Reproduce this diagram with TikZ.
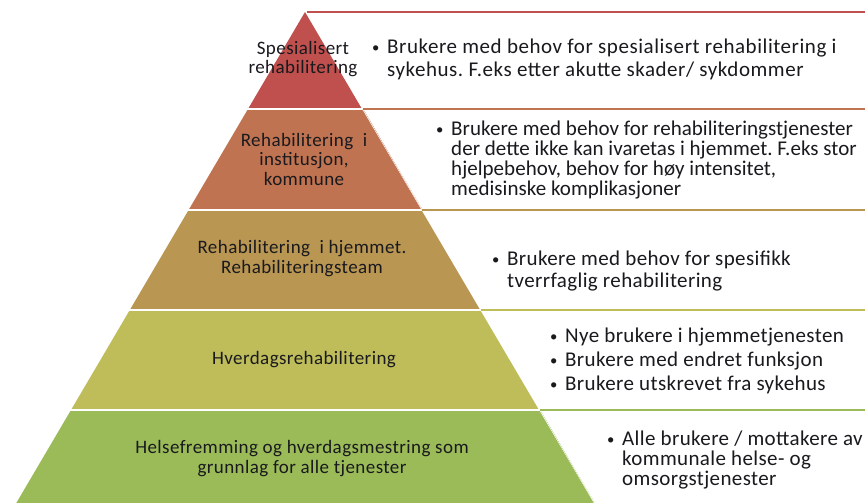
\documentclass[tikz,border=0pt]{standalone}
\usepackage{fontspec}
\setmainfont{Carlito}
\newfontfamily\rfont[LetterSpace=1.8]{Carlito}
\newfontfamily\rfonta[LetterSpace=2.6]{Carlito}
\newfontfamily\rfontb[LetterSpace=0.2]{Carlito}
\newfontfamily\pfont[LetterSpace=2.2]{Carlito}
\definecolor{cA}{RGB}{192,80,77}
\definecolor{cB}{RGB}{192,115,80}
\definecolor{cC}{RGB}{185,150,82}
\definecolor{cD}{RGB}{190,189,90}
\definecolor{cE}{RGB}{155,187,89}
\definecolor{txt}{RGB}{25,25,30}
\newcommand{\bl}{\makebox[15pt][l]{\raisebox{1pt}{\scalebox{0.7}{\textbullet}}}}
\newcommand{\ind}{\hspace*{15pt}}
\frenchspacing
\begin{document}
\begin{tikzpicture}[x=1pt,y=-1pt,
  layerfill/.style={fill=#1,draw=none},
  sepline/.style={white,line width=1.6pt},
  boxtop/.style={draw=#1,line width=1.4pt},
  boxside/.style={draw=#1!55,line width=0.8pt,dash pattern=on 1pt off 1pt},
  plabel/.style={align=center,inner sep=0pt,text=txt,font=\pfont\fontsize{19}{19.5}\selectfont},
  rtext/.style={align=left,anchor=west,inner sep=0pt,text=txt}]
\useasboundingbox (0,0) rectangle (865,503);
\clip (0,0) rectangle (865,503);
\fill[white] (0,0) rectangle (865,503);
% pyramid corners
\coordinate (apex) at (305,12);
\coordinate (l1) at (248,109);   \coordinate (r1) at (362,109);
\coordinate (l2) at (188.6,210); \coordinate (r2) at (421.4,210);
\coordinate (l3) at (129.8,310); \coordinate (r3) at (480.2,310);
\coordinate (l4) at (71,410);    \coordinate (r4) at (539,410);
\coordinate (l5) at (16.3,503);  \coordinate (r5) at (593.7,503);
\coordinate (e0) at (865,12);
\coordinate (e1) at (865,109);
\coordinate (e2) at (865,210);
\coordinate (e3) at (865,310);
\coordinate (e4) at (865,410);
% layers
\fill[layerfill=cA] (apex) -- (r1) -- (l1) -- cycle;
\fill[layerfill=cB] (l1) -- (r1) -- (r2) -- (l2) -- cycle;
\fill[layerfill=cC] (l2) -- (r2) -- (r3) -- (l3) -- cycle;
\fill[layerfill=cD] (l3) -- (r3) -- (r4) -- (l4) -- cycle;
\fill[layerfill=cE] (l4) -- (r4) -- (r5) -- (l5) -- cycle;
% separators
\draw[sepline] ([xshift=-3pt]l1) -- ([xshift=2pt]r1);
\draw[sepline] ([xshift=-3pt]l2) -- ([xshift=2pt]r2);
\draw[sepline] ([xshift=-3pt]l3) -- ([xshift=2pt]r3);
\draw[sepline] ([xshift=-3pt]l4) -- ([xshift=2pt]r4);
% box sides along pyramid edge
\draw[boxside=cB] ([xshift=1pt]r1) -- ([xshift=1pt]r2);
\draw[boxside=cE] ([xshift=1pt]r4) -- ([xshift=1pt]r5);
% box tops
\draw[boxtop=cA] ([xshift=2pt]apex) -- (e0);
\draw[boxtop=cB] ([xshift=1pt]r1) -- (e1);
\draw[boxtop=cC] ([xshift=1pt]r2) -- (e2);
\draw[boxtop=cD] ([xshift=1pt]r3) -- (e3);
\draw[boxtop=cE] ([xshift=1pt]r4) -- (e4);
% pyramid labels
\node[plabel] (p1) at (303,59) {Spesialisert\\rehabilitering};
\node[plabel] (p2) at (304,159) {Rehabilitering\ \ i\\institusjon,\\kommune};
\node[plabel] (p3) at (302,258.5) {Rehabilitering\ \ i hjemmet.\\Rehabiliteringsteam};
\node[plabel] (p4) at (304,360) {Hverdagsrehabilitering};
\node[plabel] (p5) at (302,458.5) {Helsefremming og hverdagsmestring som\\grunnlag for alle tjenester};
% right texts
\node[rtext,font=\rfonta\fontsize{21}{23}\selectfont] (t1) at (372,59.5) {\bl Brukere med behov for spesialisert rehabilitering i\\\ind sykehus. F.eks etter akutte skader/ sykdommer};
\node[rtext,font=\rfontb\fontsize{21}{20}\selectfont] (t2) at (436,160) {\bl Brukere med behov for rehabiliteringstjenester\\\ind der dette ikke kan ivaretas i hjemmet. F.eks stor\\\ind hjelpebehov, behov for høy intensitet,\\\ind medisinske komplikasjoner};
\node[rtext,font=\rfont\fontsize{21}{22}\selectfont] (t3) at (492,271) {\bl Brukere med behov for spesifikk\\\ind tverrfaglig rehabilitering};
\node[rtext,font=\rfont\fontsize{21}{24}\selectfont] (t4) at (550,361) {\bl Nye brukere i hjemmetjenesten\\\bl Brukere med endret funksjon\\\bl Brukere utskrevet fra sykehus};
\node[rtext,font=\rfont\fontsize{21}{20}\selectfont] (t5) at (607,460) {\bl Alle brukere / mottakere av\\\ind kommunale helse- og\\\ind omsorgstjenester};
\end{tikzpicture}
\end{document}
